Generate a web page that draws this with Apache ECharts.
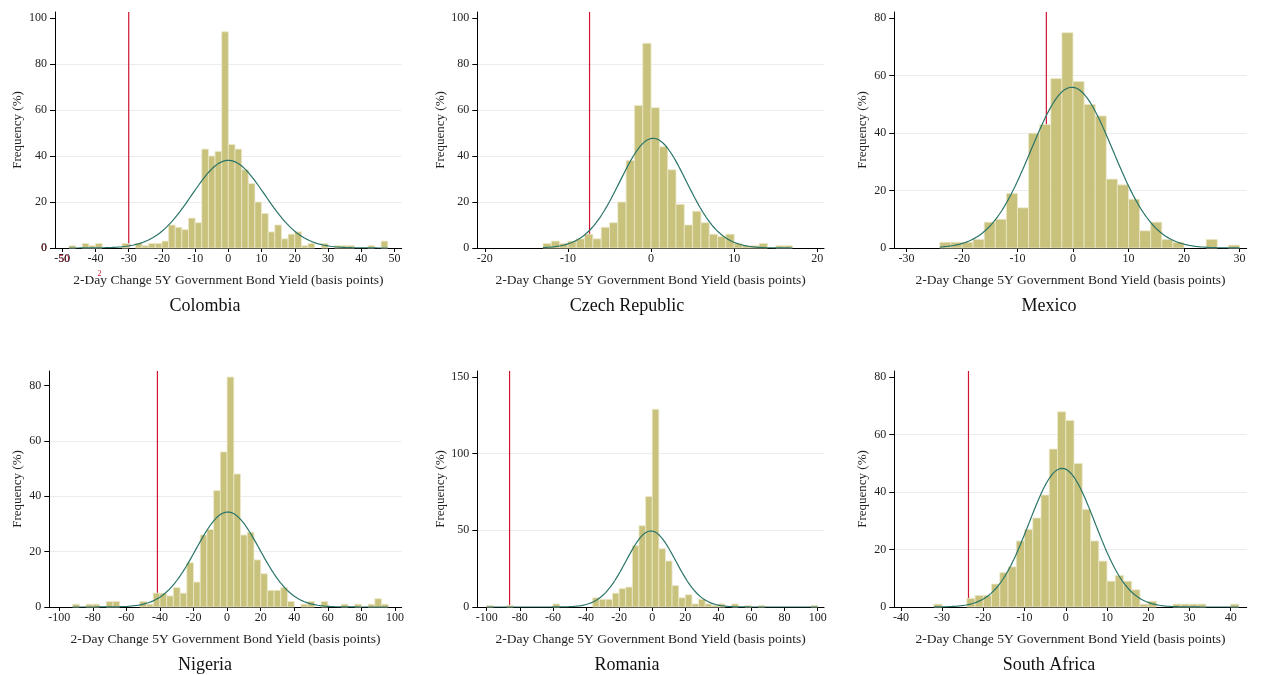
<!DOCTYPE html>
<html><head><meta charset="utf-8">
<script src="https://cdn.jsdelivr.net/npm/echarts@6/dist/echarts.min.js"></script>
<style>html,body{margin:0;padding:0;background:#fff}#c{width:1263px;height:675px}</style>
</head><body><div id="c"></div>
<script>
// ---------------- data ----------------
const countries = ['Colombia', 'Czech Republic', 'Mexico', 'Nigeria', 'Romania', 'South Africa'];

// histogram bins: first bin lower edge, bin width, frequencies (%)
const colombiaStart = -48, colombiaBin = 2;
const colombiaFreq = [1,0,2,1,2,0,0,0,2,0,2,1,2,2,3,10,9,8,13,11,43,40,42,94,45,43,34,28,20,15,7,10,4,6,7,1,2,0,2,0,1,1,1,0,0,1,0,3];

const czechStart = -13, czechBin = 1;
const czechFreq = [2,3,2,3,4,6,4,9,11,20,38,62,89,61,44,34,19,10,16,11,6,5,6,2,1,1,2,0,1,1];

const mexicoStart = -24, mexicoBin = 2;
const mexicoFreq = [2,2,2,3,9,10,19,14,40,43,59,75,58,50,46,24,22,17,6,9,3,2,0,0,3,0,1];

const nigeriaStart = -92, nigeriaBin = 4;
const nigeriaFreq = [1,0,1,1,0,2,2,0,0,0,2,1,5,5,4,7,5,16,9,26,28,42,56,83,48,26,27,17,12,6,6,7,2,0,1,2,0,2,0,0,1,0,1,0,1,3,1];

const romaniaStart = -100, romaniaBin = 4;
const romaniaFreq = [1,0,0,1,0,0,0,0,0,0,2,0,0,0,0,0,6,5,5,9,12,13,40,53,72,129,38,30,14,6,8,2,5,2,1,2,0,2,0,1,0,1,0,0,0,0,0,0,0,1];

const southAfricaStart = -32, southAfricaBin = 2;
const southAfricaFreq = [1,0,0,0,3,4,4,8,12,14,23,27,31,39,55,68,65,50,34,23,16,9,11,9,6,1,2,0,0,1,1,1,1,0,0,0,1];

// vertical threshold lines (basis points)
const thresholds = [-30, -7.4, -4.8, -41.5, -86.2, -23.6];

// fitted normal overlay parameters: mean, sd, peak height (%)
const normalMean = [0.0, 0.25, -0.2, 0.4, -0.8, -0.9];
const normalSd   = [11, 4.0, 7.4, 19, 15, 8];
const normalPeak = [38.1, 47.7, 56, 34.3, 49.6, 48.3];

// axis ticks
const xTicks = [
  [-50,-40,-30,-20,-10,0,10,20,30,40,50],
  [-20,-10,0,10,20],
  [-30,-20,-10,0,10,20,30],
  [-100,-80,-60,-40,-20,0,20,40,60,80,100],
  [-100,-80,-60,-40,-20,0,20,40,60,80,100],
  [-40,-30,-20,-10,0,10,20,30,40]
];
const yTicks = [
  [0,20,40,60,80,100],
  [0,20,40,60,80,100],
  [0,20,40,60,80],
  [0,20,40,60,80],
  [0,50,100,150],
  [0,20,40,60,80]
];
const yStep = [20,20,20,20,50,20];

// axis extents
const xMin = [-52.2, -20.9, -32.2, -105.9, -105.7, -41.6];
const xMax = [52.2, 20.8, 31.3, 104.0, 103.8, 43.9];
const yMax = [102.6, 102.6, 82.2, 85.2, 153.9, 82.2];

const xName = '2-Day Change 5Y Government Bond Yield (basis points)';
const yName = 'Frequency (%)';

// ---------------- layout / style ----------------
const FONT = '"Liberation Serif", "DejaVu Serif", serif';
const gridLeft = [55, 477.3, 894.3, 49.3, 477.3, 894.3];
const gridRightEdge = [401.7, 824, 1246.7, 401.7, 824, 1246.7];
const gridTop = [12, 12, 12, 371, 371, 371];
const gridH = 236;
const yNameGap = [31, 30, 25, 25, 30, 25];
const titleX = [205, 627, 1049, 205, 627, 1049];
const titleY = [306, 306, 306, 665, 665, 665];

const BAR_FILL = '#c9c27c';
const BAR_EDGE = '#ece9cc';
const CURVE = '#2a7468';
const RED = '#cf1430';

const hist = [
  [colombiaStart, colombiaBin, colombiaFreq],
  [czechStart, czechBin, czechFreq],
  [mexicoStart, mexicoBin, mexicoFreq],
  [nigeriaStart, nigeriaBin, nigeriaFreq],
  [romaniaStart, romaniaBin, romaniaFreq],
  [southAfricaStart, southAfricaBin, southAfricaFreq]
];

const grids = [], xAxes = [], yAxes = [], series = [], graphics = [];

countries.forEach((name, i) => {
  grids.push({left: gridLeft[i], top: gridTop[i], width: gridRightEdge[i] - gridLeft[i], height: gridH, containLabel: false});
  xAxes.push({
    type: 'value', gridIndex: i, min: xMin[i], max: xMax[i],
    axisLine: {show: true, onZero: false, lineStyle: {color: '#000', width: 1}},
    axisTick: {show: true, customValues: xTicks[i], length: 4, lineStyle: {color: '#000', width: 1}},
    axisLabel: {customValues: xTicks[i], color: '#222', fontFamily: FONT, fontSize: 12, margin: 5},
    splitLine: {show: false},
    name: xName, nameLocation: 'middle', nameGap: 25,
    nameTextStyle: {color: '#222', fontFamily: FONT, fontSize: 13.5}
  });
  yAxes.push({
    type: 'value', gridIndex: i, min: 0, max: yMax[i], interval: yStep[i],
    axisLine: {show: true, onZero: false, lineStyle: {color: '#000', width: 1}},
    axisTick: {show: true, inside: false, customValues: yTicks[i], length: 5, lineStyle: {color: '#000', width: 1}},
    axisLabel: {customValues: yTicks[i], color: '#222', fontFamily: FONT, fontSize: 12, margin: 8},
    splitLine: {show: true, showMaxLine: false, showMinLine: false, lineStyle: {color: '#ececec', width: 1}},
    name: yName, nameLocation: 'middle', nameRotate: 90, nameGap: yNameGap[i],
    nameTextStyle: {color: '#222', fontFamily: FONT, fontSize: 13}
  });

  // threshold line (under the bars)
  series.push({
    type: 'line', xAxisIndex: i, yAxisIndex: i, z: 1, silent: true, animation: false,
    symbol: 'none', data: [[thresholds[i], 0], [thresholds[i], yMax[i]]],
    lineStyle: {color: RED, width: 1.2}
  });

  // histogram bars
  const [start, bw, freq] = hist[i];
  const barData = [];
  freq.forEach((f, k) => { if (f > 0) barData.push([start + k * bw, start + (k + 1) * bw, f]); });
  series.push({
    type: 'custom', xAxisIndex: i, yAxisIndex: i, z: 2, silent: true, animation: false,
    data: barData, encode: {x: [0, 1], y: 2},
    renderItem: (params, api) => {
      const p0 = api.coord([api.value(0), api.value(2)]);
      const p1 = api.coord([api.value(1), 0]);
      return {type: 'rect', shape: {x: p0[0], y: p0[1], width: p1[0] - p0[0], height: p1[1] - p0[1]},
              style: {fill: BAR_FILL, stroke: BAR_EDGE, lineWidth: 0.8}};
    }
  });

  // fitted normal overlay
  const lo = start, hi = start + freq.length * bw;
  const curve = [];
  const m = normalMean[i], s = normalSd[i], pk = normalPeak[i];
  for (let k = 0; k <= 400; k++) {
    const x = lo + (hi - lo) * k / 400;
    curve.push([x, pk * Math.exp(-((x - m) * (x - m)) / (2 * s * s))]);
  }
  series.push({
    type: 'line', xAxisIndex: i, yAxisIndex: i, z: 3, silent: true, animation: false,
    symbol: 'none', data: curve, lineStyle: {color: CURVE, width: 1.2}
  });

  graphics.push({type: 'text', x: titleX[i], y: titleY[i],
    style: {text: name, fontFamily: FONT, fontSize: 18, fill: '#111', align: 'center', verticalAlign: 'middle'}});
});

// stray red labels visible in the first panel of the original
graphics.push({type: 'text', x: 44, y: 248, style: {text: '0', fontFamily: FONT, fontSize: 11, fill: RED, align: 'center', verticalAlign: 'middle'}});
graphics.push({type: 'text', x: 64, y: 259, style: {text: '50', fontFamily: FONT, fontSize: 11, fill: RED, align: 'center', verticalAlign: 'middle'}});
graphics.push({type: 'text', x: 99.5, y: 274, style: {text: '2', fontFamily: FONT, fontSize: 8, fill: RED, align: 'center', verticalAlign: 'middle'}});

const chart = echarts.init(document.getElementById('c'), null, {renderer: 'canvas'});
chart.setOption({
  animation: false,
  backgroundColor: '#fff',
  grid: grids, xAxis: xAxes, yAxis: yAxes, series: series, graphic: graphics
});
</script></body></html>
